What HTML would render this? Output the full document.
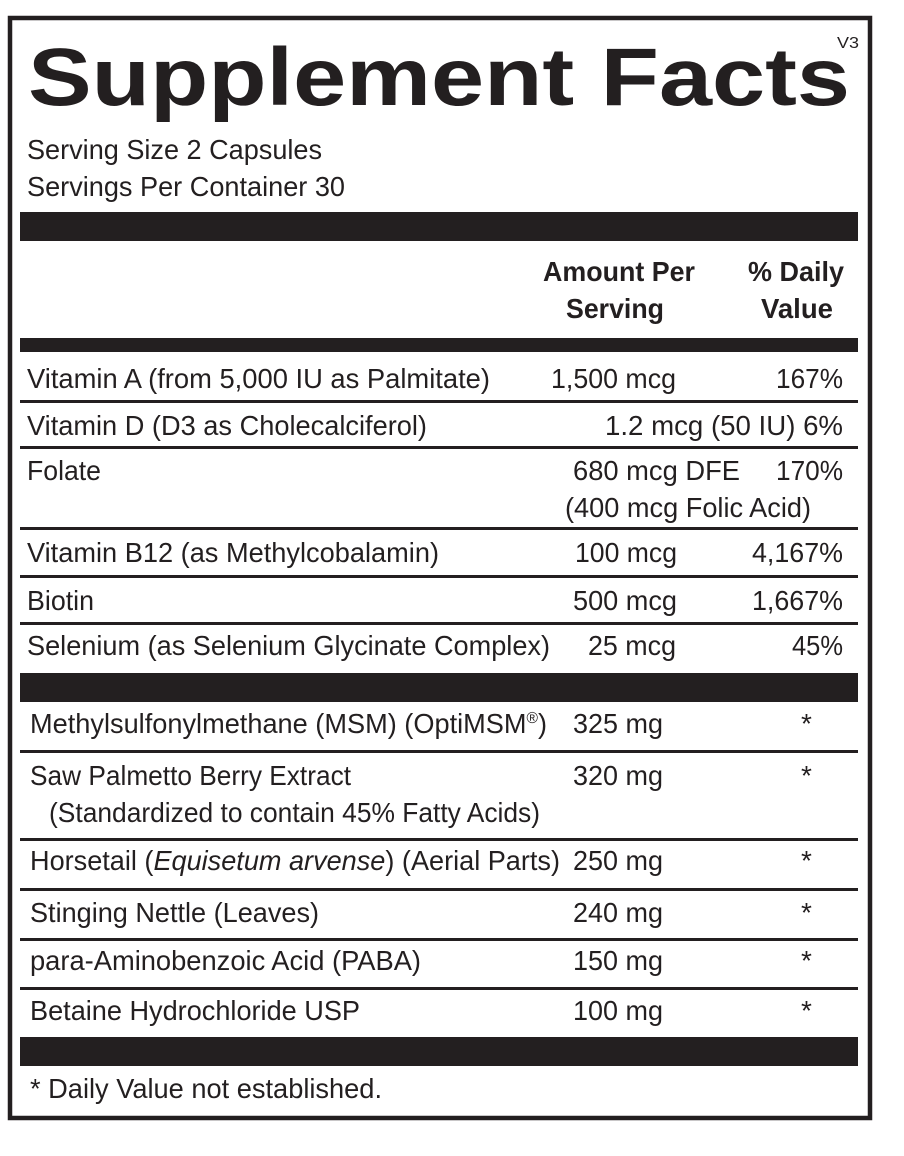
<!DOCTYPE html>
<html><head><meta charset="utf-8"><style>
html,body{margin:0;padding:0;background:#fff;}
svg{display:block;}
text{font-family:"Liberation Sans",Arial,sans-serif;fill:#231f20;}
.b{font-size:28px;}
.h{font-size:28px;font-weight:bold;}
</style></head><body>
<svg width="904" height="1156" viewBox="0 0 904 1156" xmlns="http://www.w3.org/2000/svg">
<rect x="0" y="0" width="904" height="1156" fill="#fff"/>
<rect x="10" y="18" width="860" height="1100" fill="none" stroke="#231f20" stroke-width="4.5"/>
<text x="28" y="105" font-size="82" font-weight="bold" textLength="822" lengthAdjust="spacingAndGlyphs">Supplement Facts</text>
<text x="837" y="48" font-size="16" textLength="22" lengthAdjust="spacingAndGlyphs">V3</text>
<text class="b" x="27" y="159" textLength="295" lengthAdjust="spacingAndGlyphs">Serving Size 2 Capsules</text>
<text class="b" x="27" y="196" textLength="318" lengthAdjust="spacingAndGlyphs">Servings Per Container 30</text>
<rect x="20" y="212" width="838" height="29" fill="#231f20"/>
<text class="h" x="543" y="281" textLength="152" lengthAdjust="spacingAndGlyphs">Amount Per</text>
<text class="h" x="566" y="318" textLength="98" lengthAdjust="spacingAndGlyphs">Serving</text>
<text class="h" x="748" y="281" textLength="96" lengthAdjust="spacingAndGlyphs">% Daily</text>
<text class="h" x="761" y="318" textLength="72" lengthAdjust="spacingAndGlyphs">Value</text>
<rect x="20" y="338" width="838" height="14" fill="#231f20"/>

<text class="b" x="27" y="388" textLength="463" lengthAdjust="spacingAndGlyphs">Vitamin A (from 5,000 IU as Palmitate)</text>
<text class="b" x="551" y="388" textLength="125" lengthAdjust="spacingAndGlyphs">1,500 mcg</text>
<text class="b" x="776" y="388" textLength="67" lengthAdjust="spacingAndGlyphs">167%</text>
<rect x="20" y="400" width="838" height="3" fill="#231f20"/>

<text class="b" x="27" y="435" textLength="400" lengthAdjust="spacingAndGlyphs">Vitamin D (D3 as Cholecalciferol)</text>
<text class="b" x="605" y="435" textLength="238" lengthAdjust="spacingAndGlyphs">1.2 mcg (50 IU)  6%</text>
<rect x="20" y="446" width="838" height="3" fill="#231f20"/>

<text class="b" x="27" y="480" textLength="74" lengthAdjust="spacingAndGlyphs">Folate</text>
<text class="b" x="573" y="480" textLength="167" lengthAdjust="spacingAndGlyphs">680 mcg DFE</text>
<text class="b" x="776" y="480" textLength="67" lengthAdjust="spacingAndGlyphs">170%</text>
<text class="b" x="565" y="517" textLength="246" lengthAdjust="spacingAndGlyphs">(400 mcg Folic Acid)</text>
<rect x="20" y="527" width="838" height="3" fill="#231f20"/>

<text class="b" x="27" y="562" textLength="412" lengthAdjust="spacingAndGlyphs">Vitamin B12 (as Methylcobalamin)</text>
<text class="b" x="575" y="562" textLength="102" lengthAdjust="spacingAndGlyphs">100 mcg</text>
<text class="b" x="752" y="562" textLength="91" lengthAdjust="spacingAndGlyphs">4,167%</text>
<rect x="20" y="575" width="838" height="3" fill="#231f20"/>

<text class="b" x="27" y="610" textLength="67" lengthAdjust="spacingAndGlyphs">Biotin</text>
<text class="b" x="573" y="610" textLength="104" lengthAdjust="spacingAndGlyphs">500 mcg</text>
<text class="b" x="752" y="610" textLength="91" lengthAdjust="spacingAndGlyphs">1,667%</text>
<rect x="20" y="622" width="838" height="3" fill="#231f20"/>

<text class="b" x="27" y="655" textLength="523" lengthAdjust="spacingAndGlyphs">Selenium (as Selenium Glycinate Complex)</text>
<text class="b" x="588" y="655" textLength="88" lengthAdjust="spacingAndGlyphs">25 mcg</text>
<text class="b" x="792" y="655" textLength="51" lengthAdjust="spacingAndGlyphs">45%</text>
<rect x="20" y="673" width="838" height="29" fill="#231f20"/>

<text class="b" x="30" y="733" textLength="517" lengthAdjust="spacingAndGlyphs">Methylsulfonylmethane (MSM) (OptiMSM<tspan font-size="16" dy="-10">®</tspan><tspan dy="10">)</tspan></text>
<text class="b" x="573" y="733" textLength="90" lengthAdjust="spacingAndGlyphs">325 mg</text>
<text class="b" x="801" y="733">*</text>
<rect x="20" y="750" width="838" height="3" fill="#231f20"/>

<text class="b" x="30" y="785" textLength="321" lengthAdjust="spacingAndGlyphs">Saw Palmetto Berry Extract</text>
<text class="b" x="49" y="822" textLength="491" lengthAdjust="spacingAndGlyphs">(Standardized to contain 45% Fatty Acids)</text>
<text class="b" x="573" y="785" textLength="90" lengthAdjust="spacingAndGlyphs">320 mg</text>
<text class="b" x="801" y="785">*</text>
<rect x="20" y="838" width="838" height="3" fill="#231f20"/>

<text class="b" x="30" y="870" textLength="530" lengthAdjust="spacingAndGlyphs">Horsetail (<tspan font-style="italic">Equisetum arvense</tspan>) (Aerial Parts)</text>
<text class="b" x="573" y="870" textLength="90" lengthAdjust="spacingAndGlyphs">250 mg</text>
<text class="b" x="801" y="870">*</text>
<rect x="20" y="888" width="838" height="3" fill="#231f20"/>

<text class="b" x="30" y="922" textLength="289" lengthAdjust="spacingAndGlyphs">Stinging Nettle (Leaves)</text>
<text class="b" x="573" y="922" textLength="90" lengthAdjust="spacingAndGlyphs">240 mg</text>
<text class="b" x="801" y="922">*</text>
<rect x="20" y="938" width="838" height="3" fill="#231f20"/>

<text class="b" x="30" y="970" textLength="391" lengthAdjust="spacingAndGlyphs">para-Aminobenzoic Acid (PABA)</text>
<text class="b" x="573" y="970" textLength="90" lengthAdjust="spacingAndGlyphs">150 mg</text>
<text class="b" x="801" y="970">*</text>
<rect x="20" y="987" width="838" height="3" fill="#231f20"/>

<text class="b" x="30" y="1020" textLength="330" lengthAdjust="spacingAndGlyphs">Betaine Hydrochloride USP</text>
<text class="b" x="573" y="1020" textLength="90" lengthAdjust="spacingAndGlyphs">100 mg</text>
<text class="b" x="801" y="1020">*</text>
<rect x="20" y="1037" width="838" height="29" fill="#231f20"/>

<text class="b" x="30" y="1098" textLength="352" lengthAdjust="spacingAndGlyphs">* Daily Value not established.</text>
</svg>
</body></html>
